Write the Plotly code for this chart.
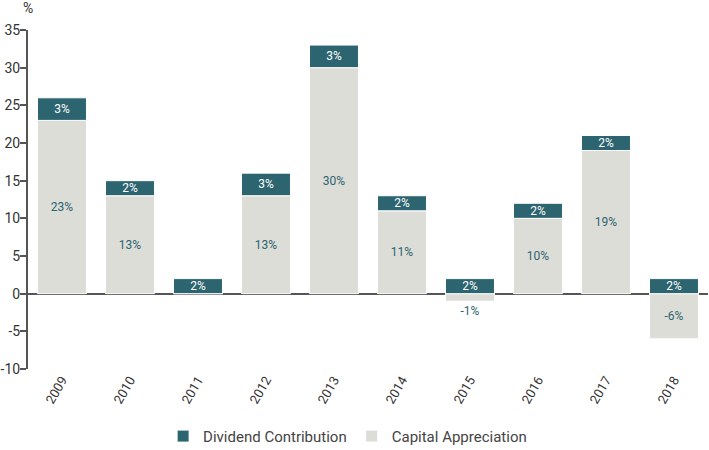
import plotly.graph_objects as go

years = ["2009", "2010", "2011", "2012", "2013", "2014", "2015", "2016", "2017", "2018"]
capital = [23, 13, 0, 13, 30, 11, -1, 10, 19, -6]
dividend = [3, 2, 2, 3, 3, 2, 2, 2, 2, 2]
y_ticks = [-10, -5, 0, 5, 10, 15, 20, 25, 30, 35]

teal = "#2c6470"
grey = "#dcddd7"
font_family = "Roboto, Arial"

cap_text = [f"{v}%" if v != 0 else "" for v in capital]
cap_pos = ["outside" if -2 < v < 0 else "inside" for v in capital]

fig = go.Figure()
fig.add_trace(go.Bar(
    x=years, y=capital, name="Capital Appreciation",
    marker=dict(color=grey, line=dict(color="white", width=1)),
    text=cap_text, textposition=cap_pos, textangle=0, constraintext="none",
    insidetextanchor="middle",
    textfont=dict(color=teal, size=12, family=font_family),
    cliponaxis=False,
))
fig.add_trace(go.Bar(
    x=years, y=dividend, name="Dividend Contribution",
    marker=dict(color=teal, line=dict(color="white", width=1)),
    text=[f"{v}%" for v in dividend], textposition="inside", textangle=0,
    constraintext="none", insidetextanchor="middle",
    textfont=dict(color="white", size=12, family=font_family),
))

fig.update_layout(
    barmode="relative",
    bargap=0.28,
    width=709, height=450,
    margin=dict(l=28, r=1, t=30, b=81, autoexpand=False),
    plot_bgcolor="white", paper_bgcolor="white",
    font=dict(family=font_family, size=13, color="#333333"),
    legend=dict(orientation="h", x=0.47, xanchor="center", y=-0.15, yanchor="top",
                traceorder="reversed", font=dict(size=15, color="#444444"),
                itemwidth=30),
    showlegend=True,
)
fig.update_xaxes(tickangle=-60, showline=False, ticks="", tickfont=dict(size=13),
                 automargin=False)
fig.update_yaxes(range=[-10, 35], tickvals=y_ticks,
                 ticktext=[str(v).replace("\u2212", "-") for v in y_ticks],
                 showgrid=False, zeroline=True,
                 zerolinecolor="#555555", zerolinewidth=2,
                 showline=True, linecolor="#555555", linewidth=2,
                 ticks="outside", ticklen=6, tickwidth=2, tickcolor="#555555",
                 tickfont=dict(size=14), ticklabelstandoff=-3, automargin=False)
fig.add_annotation(text="%", x=0, xref="paper", y=1.0, yref="paper",
                   yanchor="bottom", xanchor="center", showarrow=False, yshift=12,
                   font=dict(size=14, color="#333333"))

# page has a default body margin; drop it so the chart sits at the top-left
fig.write_html("out.html", config={"displayModeBar": False},
               post_script="document.body.style.margin = '0px';")
